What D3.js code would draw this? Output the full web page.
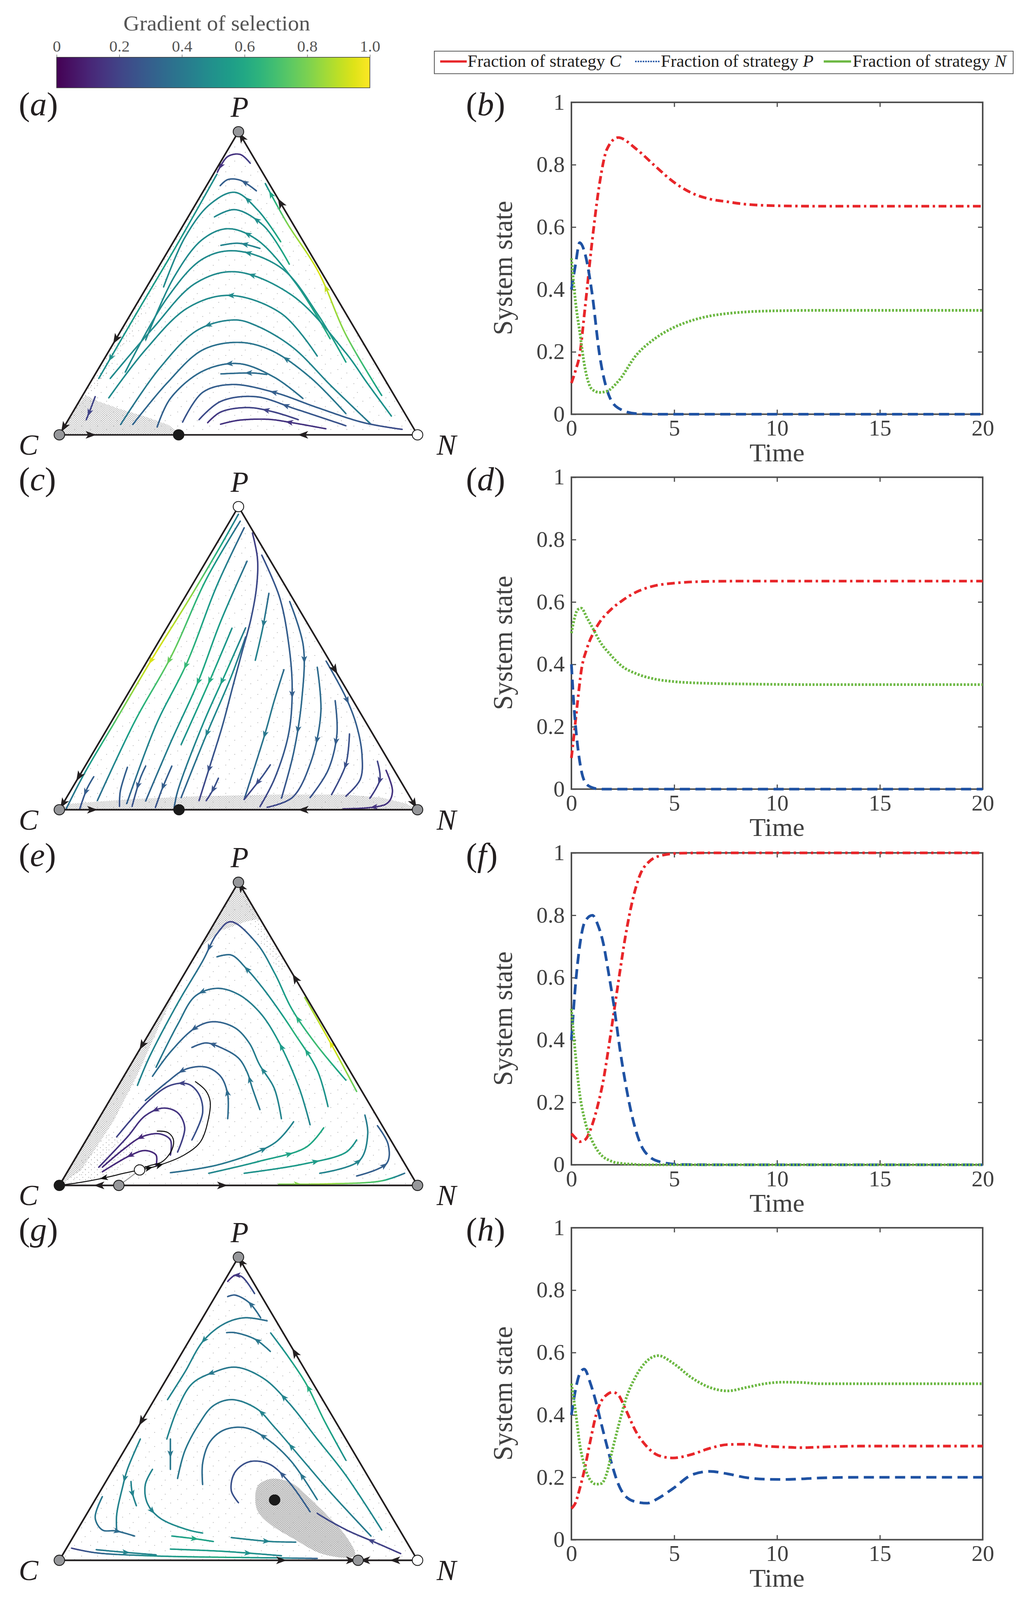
<!DOCTYPE html>
<html><head><meta charset="utf-8">
<script src="https://cdn.jsdelivr.net/npm/d3@7/dist/d3.min.js"></script>
<style>
html,body{margin:0;padding:0;background:#fff;overflow:hidden;width:100%;height:100%;}
svg{display:block;position:absolute;left:0;top:0;width:100vw;height:100vh;}
text{font-family:"Liberation Serif","Times New Roman",serif;}
</style></head><body>
<svg id="fig" viewBox="0 0 2632 4191" preserveAspectRatio="none"></svg>
<script>
// ================= DATA =================
const colorbarTicks=[0,0.2,0.4,0.6,0.8,1.0];
const colorbarLabels=['0','0.2','0.4','0.6','0.8','1.0'];
const colorbarTitle='Gradient of selection';
const strategyLetters=['C','P','N'];
const seriesColors=['#e8262a','#1f52a3','#6cb843'];
const timeTicks=[0,5,10,15,20];
const stateTicks=[0,0.2,0.4,0.6,0.8,1];
const stateTickLabels=['0','0.2','0.4','0.6','0.8','1'];
const leftLetters=['a','c','e','g'];
const rightLetters=['b','d','f','h'];

// time series (fractions of C, P, N)
const timeB=[0,0.2,0.4,0.66,1.0,1.37,1.73,2.27,3.16,4.05,4.94,5.83,6.73,7.6,8.5,10.3,12,15,20];
const fracCB=[0.1,0.14,0.19,0.34,0.55,0.74,0.85,0.887,0.85,0.797,0.746,0.71,0.69,0.681,0.673,0.668,0.667,0.667,0.667];
const fracPB=[0.4,0.48,0.55,0.515,0.39,0.19,0.078,0.02,0.002,0,0,0,0,0,0,0,0,0,0];
const fracNB=[0.5,0.36,0.266,0.148,0.08,0.07,0.074,0.105,0.19,0.242,0.277,0.30,0.315,0.323,0.328,0.332,0.333,0.333,0.333];

const timeD=[0,0.12,0.3,0.48,0.75,1.1,1.37,1.91,2.44,3.16,4.05,4.94,6.73,8.5,12,20];
const fracCD=[0.1,0.17,0.28,0.38,0.45,0.505,0.535,0.575,0.603,0.632,0.652,0.66,0.666,0.667,0.667,0.667];
const fracPD=[0.4,0.27,0.14,0.06,0.015,0.003,0,0,0,0,0,0,0,0,0,0];
const fracND=[0.5,0.54,0.575,0.58,0.55,0.508,0.475,0.43,0.395,0.37,0.353,0.345,0.339,0.337,0.335,0.335];

const timeF=[0,0.21,0.39,0.66,1.02,1.28,1.55,1.82,2.09,2.36,2.62,2.98,3.34,3.78,4.4,5.3,7,20];
const fracCF=[0.1,0.085,0.074,0.08,0.13,0.19,0.27,0.38,0.50,0.62,0.73,0.85,0.93,0.972,0.992,0.999,1,1];
const fracPF=[0.4,0.586,0.695,0.78,0.80,0.77,0.71,0.61,0.50,0.37,0.265,0.148,0.07,0.027,0.008,0.001,0,0];
const fracNF=[0.5,0.344,0.234,0.14,0.075,0.045,0.025,0.015,0.008,0.005,0.003,0.002,0,0,0,0,0,0];

const timeH=[0,0.21,0.39,0.62,0.93,1.2,1.46,1.73,2.0,2.27,2.62,3.16,3.69,4.23,4.94,5.83,6.73,7.6,8.5,9.4,10.3,11.2,12.1,14,20];
const fracCH=[0.1,0.12,0.16,0.22,0.32,0.40,0.445,0.465,0.473,0.465,0.42,0.344,0.297,0.27,0.262,0.273,0.293,0.305,0.306,0.30,0.297,0.295,0.297,0.30,0.30];
const fracPH=[0.4,0.484,0.53,0.547,0.50,0.44,0.37,0.30,0.234,0.18,0.14,0.121,0.117,0.133,0.164,0.207,0.219,0.211,0.199,0.194,0.193,0.195,0.198,0.20,0.20];
const fracNH=[0.5,0.406,0.3125,0.24,0.19,0.178,0.18,0.215,0.29,0.36,0.445,0.527,0.574,0.59,0.566,0.52,0.488,0.477,0.488,0.50,0.505,0.504,0.50,0.50,0.50];

// Simplex points: [x = N + P/2, P share, selection gradient]
const streamsA=[
 {pts:[[.533,.896,.2],[.505,.925,.15],[.47,.918,.15],[.441,.866,.15]],ar:[.85]},
 {pts:[[.55,.805,.3],[.505,.84,.3],[.47,.842,.3],[.449,.822,.3]],ar:[.35]},
 {pts:[[.618,.637,.62],[.555,.74,.5],[.49,.80,.48],[.42,.76,.48],[.35,.65,.48],[.291,.488,.48]],ar:[.28]},
 {pts:[[.642,.563,.62],[.57,.69,.5],[.49,.743,.47],[.433,.719,.47]],ar:[.55]},
 {pts:[[.756,.317,.62],[.66,.50,.55],[.55,.645,.5],[.47,.68,.48],[.40,.645,.48],[.32,.52,.48],[.241,.313,.48]],ar:[.45]},
 {pts:[[.56,.615,.45],[.50,.632,.45],[.451,.625,.45]],ar:[.4]},
 {pts:[[.80,.24,.58],[.72,.40,.53],[.62,.55,.5],[.49,.607,.48],[.40,.58,.48],[.30,.45,.48],[.184,.207,.48]],ar:[.45]},
 {pts:[[.927,.062,.5],[.86,.17,.52],[.80,.27,.52],[.65,.46,.5],[.49,.538,.48],[.38,.50,.48],[.26,.35,.48],[.142,.186,.48]],ar:[.52]},
 {pts:[[.72,.26,.48],[.62,.40,.48],[.476,.46,.48],[.36,.42,.48],[.24,.28,.48],[.138,.122,.48]],ar:[.4]},
 {pts:[[.87,.035,.4],[.76,.16,.45],[.65,.29,.46],[.55,.36,.45],[.49,.379,.45],[.388,.347,.45],[.28,.22,.43],[.171,.034,.38]],ar:[.6]},
 {pts:[[.80,.07,.4],[.70,.19,.4],[.589,.28,.4],[.50,.305,.38],[.40,.28,.37],[.30,.17,.35],[.205,.034,.32]],ar:[.3]},
 {pts:[[.68,.12,.37],[.60,.19,.37],[.50,.235,.35],[.40,.21,.35],[.31,.12,.32],[.273,.026,.3]],ar:[.45]},
 {pts:[[.579,.199,.37],[.541,.204,.35],[.451,.201,.35]],ar:[.4]},
 {pts:[[.957,.018,.22],[.85,.04,.28],[.72,.09,.3],[.60,.14,.3],[.48,.166,.3],[.40,.14,.3],[.344,.042,.25]],ar:[.55]},
 {pts:[[.80,.03,.25],[.66,.085,.28],[.547,.126,.28],[.45,.11,.25],[.39,.05,.22]],ar:[.4]},
 {pts:[[.667,.05,.2],[.60,.075,.2],[.526,.09,.2],[.45,.075,.18],[.414,.04,.15]],ar:[.35]},
 {pts:[[.744,.02,.15],[.65,.04,.15],[.585,.051,.15],[.50,.048,.15],[.45,.035,.15]],ar:[.35]},
 {pts:[[.44,.86,.48],[.325,.62,.55],[.215,.40,.55],[.11,.186,.48]],ar:[.9]},
 {pts:[[.10,.126,.2],[.082,.07,.2],[.075,.05,.2]],ar:[.7]},
 {pts:[[.90,.13,.55],[.80,.33,.8],[.723,.538,.95],[.635,.70,.8],[.575,.829,.5]],ar:[.5,.95]}
];
const streamsC=[
 {pts:[[.50,.975,.4],[.45,.87,.6],[.36,.69,.85],[.26,.50,.95],[.16,.30,.75],[.07,.12,.5],[.019,.003,.35]],ar:[.5]},
 {pts:[[.505,.952,.35],[.41,.76,.6],[.314,.51,.78],[.21,.29,.6],[.106,.03,.35]],ar:[.5]},
 {pts:[[.516,.93,.3],[.44,.74,.5],[.356,.484,.68],[.27,.28,.5],[.188,.02,.3]],ar:[.5]},
 {pts:[[.524,.82,.35],[.45,.62,.55],[.386,.418,.62],[.31,.22,.45],[.241,.029,.3]],ar:[.5]},
 {pts:[[.482,.599,.5],[.417,.418,.62],[.34,.215,.5]],ar:[.45]},
 {pts:[[.52,.60,.4],[.467,.458,.58],[.40,.28,.5],[.33,.06,.35],[.32,.003,.3]],ar:[.3]},
 {pts:[[.52,.57,.35],[.48,.44,.5],[.41,.246,.45],[.34,.04,.3]],ar:[.6]},
 {pts:[[.539,.913,.18],[.553,.83,.2],[.551,.74,.22],[.535,.63,.25],[.51,.52,.28],[.485,.41,.28],[.455,.276,.28],[.42,.143,.25],[.39,.03,.2]],ar:[.88]},
 {pts:[[.585,.714,.35],[.567,.595,.42],[.547,.493,.45]],ar:[.45]},
 {pts:[[.565,.84,.25],[.615,.70,.28],[.64,.55,.3],[.65,.40,.3],[.64,.25,.3],[.60,.10,.25],[.56,.01,.2]],ar:[.55]},
 {pts:[[.643,.687,.3],[.681,.541,.32],[.677,.365,.35],[.654,.188,.32],[.62,.038,.25]],ar:[.3,.65]},
 {pts:[[.627,.462,.35],[.60,.36,.4],[.574,.25,.4],[.516,.034,.3]],ar:[.5]},
 {pts:[[.72,.47,.35],[.73,.32,.35],[.70,.15,.3],[.65,.04,.25],[.58,.008,.2]],ar:[.45]},
 {pts:[[.77,.36,.3],[.775,.25,.3],[.75,.13,.28],[.70,.04,.25]],ar:[.4]},
 {pts:[[.81,.25,.25],[.80,.15,.25],[.76,.05,.22]],ar:[.5]},
 {pts:[[.745,.49,.3],[.80,.37,.3],[.83,.277,.3],[.845,.18,.28],[.84,.10,.25],[.80,.045,.2]],ar:[.3]},
 {pts:[[.888,.16,.2],[.895,.10,.2],[.867,.038,.18]],ar:[.5]},
 {pts:[[.912,.13,.15],[.93,.06,.15],[.914,.02,.15],[.792,.003,.15]],ar:[.62]},
 {pts:[[.096,.109,.3],[.077,.069,.3],[.057,.003,.25]],ar:[.5]},
 {pts:[[.241,.144,.3],[.226,.104,.3],[.203,.011,.25]],ar:[.5]},
 {pts:[[.314,.144,.3],[.287,.069,.3],[.268,.007,.25]],ar:[.5]},
 {pts:[[.444,.104,.25],[.428,.064,.25],[.41,.03,.2]],ar:[.5]},
 {pts:[[.589,.148,.25],[.566,.109,.25],[.516,.034,.2]],ar:[.5]},
 {pts:[[.19,.14,.3],[.17,.06,.3],[.168,.011,.25]],ar:[]}
];
const streamsE=[
 {pts:[[.31,.042,.35],[.45,.07,.4],[.601,.14,.45],[.654,.21,.45]],ar:[.7]},
 {pts:[[.417,.04,.45],[.56,.08,.55],[.689,.126,.6],[.738,.19,.6]],ar:[.65]},
 {pts:[[.516,.04,.5],[.68,.07,.55],[.80,.109,.55],[.83,.15,.5]],ar:[.6]},
 {pts:[[.727,.04,.45],[.838,.082,.45],[.861,.17,.45],[.853,.232,.4]],ar:[.45]},
 {pts:[[.83,.031,.3],[.914,.073,.3],[.918,.135,.3],[.888,.197,.3]],ar:[.4]},
 {pts:[[.612,.004,.8],[.75,.005,.85],[.90,.015,.7],[.964,.04,.35]],ar:[.15]},
 {pts:[[.83,.31,.75],[.761,.462,.95],[.685,.62,.85]],ar:[.5]},
 {pts:[[.80,.347,.55],[.719,.462,.7],[.65,.58,.6],[.601,.70,.5],[.55,.80,.35],[.478,.87,.2],[.44,.83,.25],[.40,.74,.35],[.33,.60,.45],[.25,.42,.45],[.218,.33,.45]],ar:[.2,.6]},
 {pts:[[.75,.26,.5],[.72,.38,.55],[.654,.506,.65],[.60,.60,.5],[.562,.66,.45],[.523,.714,.4],[.48,.76,.35],[.44,.754,.35]],ar:[.3,.82]},
 {pts:[[.70,.20,.45],[.67,.32,.5],[.612,.475,.55],[.56,.57,.45],[.50,.63,.4],[.44,.65,.35],[.38,.625,.35],[.33,.53,.4],[.27,.39,.4]],ar:[.3,.68]},
 {pts:[[.62,.22,.45],[.60,.32,.45],[.559,.398,.45],[.53,.47,.4],[.49,.52,.35],[.43,.54,.3],[.38,.52,.3],[.31,.44,.35],[.26,.36,.35]],ar:[.25,.7]},
 {pts:[[.56,.25,.4],[.539,.32,.4],[.524,.374,.4],[.50,.42,.35],[.45,.455,.3],[.409,.47,.3],[.37,.455,.3]],ar:[.3,.8]},
 {pts:[[.47,.22,.35],[.47,.30,.35],[.45,.36,.3],[.41,.39,.3],[.352,.383,.3],[.30,.34,.3],[.24,.28,.3]],ar:[.2,.65]},
 {pts:[[.37,.15,.25],[.40,.24,.25],[.39,.30,.22],[.36,.334,.2],[.31,.33,.2],[.25,.28,.2],[.16,.16,.2]],ar:[.45]},
 {pts:[[.33,.11,.2],[.35,.19,.18],[.33,.24,.15],[.29,.255,.15],[.24,.23,.15],[.19,.16,.15],[.11,.06,.15]],ar:[.45]},
 {pts:[[.31,.10,.15],[.31,.15,.15],[.28,.17,.15],[.23,.16,.12],[.18,.12,.12],[.12,.06,.12]],ar:[.5]},
 {pts:[[.27,.065,.12],[.27,.10,.12],[.24,.115,.12],[.20,.10,.12],[.12,.045,.12]],ar:[.55]}
];
const separatricesE=[
 {pts:[[.224,.051],[.18,.04],[.142,.029],[.06,.01],[0,0]],ar:[.45]},
 {pts:[[.224,.051],[.272,.064],[.348,.10],[.394,.144],[.417,.224],[.421,.277],[.409,.312],[.379,.343]],ar:[.07,.15]},
 {pts:[[.224,.051],[.249,.064],[.287,.078],[.314,.117],[.318,.153],[.302,.175],[.272,.179]],ar:[]}
];
const streamsG=[
 {pts:[[.034,.04,.2],[.10,.025,.3],[.25,.015,.5],[.45,.01,.62],[.60,.008,.5],[.72,.006,.3]],ar:[]},
 {pts:[[.103,.035,.4],[.176,.027,.45],[.27,.018,.45]],ar:[.5]},
 {pts:[[.31,.037,.55],[.45,.03,.55],[.547,.022,.5],[.62,.015,.45]],ar:[.7]},
 {pts:[[.314,.08,.55],[.379,.071,.6],[.43,.062,.55]],ar:[.55]},
 {pts:[[.48,.075,.45],[.589,.062,.45],[.66,.06,.4]],ar:[.55]},
 {pts:[[.226,.40,.45],[.19,.30,.45],[.176,.239,.45],[.16,.15,.45],[.16,.10,.4]],ar:[.45]},
 {pts:[[.12,.21,.4],[.10,.14,.4],[.12,.10,.35],[.157,.097,.35],[.21,.08,.35]],ar:[.75]},
 {pts:[[.26,.30,.45],[.24,.25,.45],[.245,.19,.45],[.28,.14,.45],[.36,.10,.5],[.40,.09,.5]],ar:[.45]},
 {pts:[[.31,.40,.4],[.31,.362,.4],[.31,.30,.4]],ar:[.5]},
 {pts:[[.20,.26,.45],[.203,.225,.45],[.215,.18,.45]],ar:[.5]},
 {pts:[[.545,.88,.25],[.51,.935,.2],[.49,.94,.15],[.47,.92,.15]],ar:[.7]},
 {pts:[[.562,.80,.35],[.53,.85,.35],[.49,.875,.3],[.47,.87,.3]],ar:[.4]},
 {pts:[[.589,.689,.4],[.547,.729,.4],[.49,.751,.35],[.467,.751,.35]],ar:[.35]},
 {pts:[[.58,.79,.35],[.516,.80,.4],[.46,.78,.42],[.402,.724,.45],[.35,.62,.45],[.302,.53,.45]],ar:[.5]},
 {pts:[[.80,.33,.5],[.74,.46,.6],[.69,.58,.62],[.64,.67,.55],[.59,.75,.45]],ar:[.55]},
 {pts:[[.90,.10,.45],[.80,.28,.5],[.72,.40,.5],[.64,.52,.45],[.57,.60,.45],[.493,.637,.4],[.43,.62,.4],[.371,.583,.45],[.33,.50,.45],[.30,.40,.45]],ar:[.5,.75]},
 {pts:[[.87,.08,.4],[.76,.22,.45],[.68,.33,.45],[.60,.44,.45],[.551,.50,.45],[.482,.53,.4],[.43,.51,.4],[.39,.45,.4],[.35,.36,.4],[.33,.27,.4]],ar:[.4,.55]},
 {pts:[[.72,.20,.4],[.647,.327,.38],[.58,.40,.38],[.52,.437,.35],[.46,.43,.35],[.42,.39,.35],[.40,.32,.35],[.40,.25,.35]],ar:[.15,.45]},
 {pts:[[.70,.16,.3],[.64,.26,.3],[.585,.318,.25],[.53,.325,.25],[.49,.29,.25],[.48,.23,.25],[.50,.19,.25]],ar:[.35]},
 {pts:[[.953,.022,.18],[.88,.06,.2],[.807,.097,.2],[.74,.14,.22],[.72,.155,.22]],ar:[.35]}
];

// fixed points [x, P share, kind]
const fixedA=[[0,0,'grey'],[.5,1,'grey'],[1,0,'white'],[.333,0,'black']];
const fixedC=[[0,0,'grey'],[.5,1,'white'],[1,0,'grey'],[.334,0,'black']];
const fixedE=[[0,0,'black'],[.5,1,'grey'],[1,0,'grey'],[.166,0,'grey'],[.224,.051,'white']];
const fixedG=[[0,0,'grey'],[.5,1,'grey'],[1,0,'white'],[.834,0,'grey'],[.601,.199,'black']];

// boundary flow arrows: [edge, position along edge, direction]
const edgeArrowsA=[['CP',.315,-1],['CP',.025,-1],['PN',.235,-1],['PN',.018,-1],['CN',.088,1],['CN',.68,-1]];
const edgeArrowsC=[['CP',.109,-1],['CP',.02,-1],['PN',.538,1],['PN',.98,1],['CN',.092,1],['CN',.681,-1]];
const edgeArrowsE=[['CP',.462,-1],['PN',.317,-1],['PN',.015,-1],['CN',.111,-1],['CN',.455,1]];
const edgeArrowsG=[['CP',.459,-1],['PN',.315,-1],['PN',.015,-1],['CN',.62,1],['CN',.815,1],['CN',.853,-1],['CN',.937,-1]];

// grey trajectory-dot regions
const greyA=[{poly:[[0,0],[.03,.06],[.05,.10],[.075,.13],[.11,.11],[.17,.085],[.24,.06],[.30,.035],[.334,.01],[.334,0]],kind:'dense'},
             {poly:[[0,0],[.5,1],[.47,.93],[.40,.78],[.30,.55],[.20,.33],[.12,.18],[.05,.08]],kind:'med'}];
const greyC=[{poly:[[0,0],[.03,.02],[.2,.035],[.4,.045],[.6,.05],[.8,.05],[.9,.04],[.97,.02],[1,0]],kind:'dense'}];
const greyE=[{poly:[[0,0],[.5,1],[.56,.88],[.52,.87],[.45,.84],[.40,.79],[.34,.68],[.28,.53],[.22,.37],[.15,.21],[.10,.12],[.06,.05]],kind:'dense'},
             {poly:[[.5,1],[.64,.72],[.62,.70],[.55,.83]],kind:'med'},
             {poly:[[0,0],[.14,.17],[.22,.13],[.16,.05],[.1,.015]],kind:'med'}];
const greyG=[{poly:[[.555,.247],[.593,.269],[.647,.256],[.70,.203],[.754,.141],[.80,.08],[.826,.018],[.807,.009],[.731,.022],[.654,.071],[.593,.115],[.555,.159],[.547,.203]],kind:'solid'}];

// ================= LAYOUT =================
const rowOffsets=[0,982,1966,2948];
const triLeft=152, triRight=1069, triBase=1139, triHeight=794;
const tsLeft=1463, tsRight=2516, tsTop=268, tsBottom=1085;
const inkColor='#231f20', axisGrey='#4d4d4d', labelGrey='#404040';

const svg=d3.select('#fig');
svg.append('rect').attr('width',2632).attr('height',4191).attr('fill','#fff');
const defs=svg.append('defs');
const gradColor=t=>d3.interpolateViridis(Math.max(0,Math.min(1,t)));

function dotPattern(id,w,h,dots,r,col){
  const p=defs.append('pattern').attr('id',id).attr('patternUnits','userSpaceOnUse').attr('width',w).attr('height',h);
  dots.forEach(d=>p.append('circle').attr('cx',d[0]).attr('cy',d[1]).attr('r',r).attr('fill',col));
}
dotPattern('dSparse',41,37,[[4,6],[27,15],[13,29]],1.0,'#9a9a9a');
dotPattern('dMed',15,13,[[2,3],[9,9]],1.05,'#8e8e8e');
dotPattern('dDense',6,5,[[1,1],[4,3.5]],1.15,'#8e8e8e');

// ---------- colour bar ----------
const cbScale=d3.scaleLinear().domain([0,1]).range([145,947]);
const cbGrad=defs.append('linearGradient').attr('id','cbGrad').attr('x1','0%').attr('x2','100%');
d3.range(0,1.0001,0.05).forEach(t=>cbGrad.append('stop').attr('offset',(t*100)+'%').attr('stop-color',gradColor(t)));
svg.append('rect').attr('x',cbScale(0)).attr('y',150).attr('width',cbScale(1)-cbScale(0)).attr('height',80)
  .attr('fill','url(#cbGrad)').attr('stroke','#333').attr('stroke-width',1.5);
const cbAxis=svg.append('g').attr('transform','translate(0,150)')
  .call(d3.axisTop(cbScale).tickValues(colorbarTicks).tickFormat((d,i)=>colorbarLabels[i]).tickSize(7).tickPadding(8));
cbAxis.select('.domain').remove();
cbAxis.selectAll('line').attr('stroke','#555').attr('stroke-width',1.2);
cbAxis.selectAll('text').attr('font-size',42).attr('fill','#555').attr('font-family','"Liberation Serif",serif');
svg.append('text').attr('x',555).attr('y',80).attr('text-anchor','middle').attr('font-size',57).attr('fill','#555').text(colorbarTitle);

// ---------- legend ----------
svg.append('rect').attr('x',1112).attr('y',134).attr('width',1482).attr('height',59).attr('fill','#fff').attr('stroke','#555').attr('stroke-width',2);
const legendPos=[[1127,1195,1197],[1626,1689,1692],[2109,2179,2183]];
const legendDash=[null,'4,2.5',null];
strategyLetters.forEach((s,i)=>{
  const lp=legendPos[i];
  const ln=svg.append('line').attr('x1',lp[0]).attr('x2',lp[1]).attr('y1',161).attr('y2',161)
    .attr('stroke',seriesColors[i]).attr('stroke-width',i===1?4:6);
  if(legendDash[i]) ln.attr('stroke-dasharray',legendDash[i]);
  const t=svg.append('text').attr('x',lp[2]).attr('y',175).attr('font-size',45).attr('fill',inkColor);
  t.append('tspan').text('Fraction of strategy ');
  t.append('tspan').attr('font-style','italic').text(s);
});

// ---------- helpers ----------
const lineGen=d3.line().curve(d3.curveCatmullRom.alpha(0.5));
const arrowShape='M10,0 L-10,-7.5 L-5,0 L-10,7.5 Z';

function drawStream(parent,s,P,fixedColor,width,arrowScale){
  const xy=s.pts.map(d=>P(d));
  const tmp=parent.append('path').attr('d',lineGen(xy)).attr('fill','none').attr('stroke','none');
  const node=tmp.node(); const L=node.getTotalLength();
  const cum=[0];
  for(let i=1;i<xy.length;i++) cum.push(cum[i-1]+Math.hypot(xy[i][0]-xy[i-1][0],xy[i][1]-xy[i-1][1]));
  const tot=cum[cum.length-1]||1;
  const gAt=f=>{
    const t=f*tot; let i=0;
    while(i<cum.length-2 && cum[i+1]<t) i++;
    const a=cum[i],b=cum[i+1]; const w=b>a?Math.max(0,Math.min(1,(t-a)/(b-a))):0;
    return s.pts[i][2]*(1-w)+s.pts[i+1][2]*w;
  };
  const colorAt=f=>fixedColor||gradColor(gAt(f));
  if(fixedColor){
    parent.append('path').attr('d',lineGen(xy)).attr('fill','none').attr('stroke',fixedColor).attr('stroke-width',width);
  } else {
    const n=Math.max(2,Math.ceil(L/4));
    const sp=d3.range(n+1).map(k=>node.getPointAtLength(k/n*L));
    for(let k=0;k<n;k++){
      parent.append('line').attr('x1',sp[k].x).attr('y1',sp[k].y).attr('x2',sp[k+1].x).attr('y2',sp[k+1].y)
        .attr('stroke',colorAt((k+0.5)/n)).attr('stroke-width',width).attr('stroke-linecap','round');
    }
  }
  s.ar.forEach(f=>{
    const l=f*L;
    const a=node.getPointAtLength(Math.max(0,l-3)), b=node.getPointAtLength(Math.min(L,l+3)), c=node.getPointAtLength(l);
    const ang=Math.atan2(b.y-a.y,b.x-a.x)*180/Math.PI;
    parent.append('path').attr('d',arrowShape).attr('transform',`translate(${c.x},${c.y}) rotate(${ang}) scale(${arrowScale})`)
      .attr('fill',colorAt(f));
  });
  tmp.remove();
}

function panelLetter(x,y,letter){
  const t=svg.append('text').attr('x',x).attr('y',y).attr('font-size',86).attr('fill',inkColor);
  t.append('tspan').text('(');
  t.append('tspan').attr('font-style','italic').text(letter);
  t.append('tspan').text(')');
}

// ---------- simplex panels ----------
const simplexPanels=[
 {streams:streamsA,fixed:fixedA,edges:edgeArrowsA,grey:greyA,sep:[]},
 {streams:streamsC,fixed:fixedC,edges:edgeArrowsC,grey:greyC,sep:[]},
 {streams:streamsE,fixed:fixedE,edges:edgeArrowsE,grey:greyE,sep:separatricesE},
 {streams:streamsG,fixed:fixedG,edges:edgeArrowsG,grey:greyG,sep:[]}
];
const vertexOf={C:[0,0],P:[0.5,1],N:[1,0]};

simplexPanels.forEach((cfg,i)=>{
  const off=rowOffsets[i];
  const xs=d3.scaleLinear().domain([0,1]).range([triLeft,triRight]);
  const ys=d3.scaleLinear().domain([0,1]).range([triBase+off,triBase+off-triHeight]);
  const P=d=>[xs(d[0]),ys(d[1])];
  const verts=[vertexOf.C,vertexOf.P,vertexOf.N].map(P);
  const g=svg.append('g');
  const clipId='triClip'+i;
  defs.append('clipPath').attr('id',clipId).append('polygon').attr('points',verts.map(v=>v.join(',')).join(' '));
  const inner=g.append('g').attr('clip-path',`url(#${clipId})`);
  inner.append('polygon').attr('points',verts.map(v=>v.join(',')).join(' ')).attr('fill','url(#dSparse)');
  cfg.grey.forEach(r=>{
    const curve=r.kind==='solid'?d3.curveCatmullRomClosed:d3.curveLinearClosed;
    const d=d3.line().curve(curve)(r.poly.map(P));
    if(r.kind==='solid'){
      inner.append('path').attr('d',d).attr('fill','#c4c4c4').attr('opacity',0.55);
      inner.append('path').attr('d',d).attr('fill','url(#dDense)');
    } else {
      inner.append('path').attr('d',d).attr('fill',r.kind==='dense'?'url(#dDense)':'url(#dMed)');
    }
  });
  if(i===2){
    inner.append('path').attr('d',lineGen([[.224,.051],[.19,.02],[.166,0]].map(P))).attr('fill','none').attr('stroke','#9a9a9a').attr('stroke-width',2.5);
  }
  cfg.streams.forEach(s=>drawStream(inner,s,P,null,3.8,1.0));
  cfg.sep.forEach(s=>drawStream(g,s,P,'#111',2.6,1.05));
  g.append('polygon').attr('points',verts.map(v=>v.join(',')).join(' ')).attr('fill','none')
    .attr('stroke',inkColor).attr('stroke-width',4.2).attr('stroke-linejoin','round');
  cfg.edges.forEach(([e,t,dir])=>{
    const a=P(vertexOf[e[0]]), b=P(vertexOf[e[1]]);
    const x=a[0]+(b[0]-a[0])*t, y=a[1]+(b[1]-a[1])*t;
    const ang=Math.atan2((b[1]-a[1])*dir,(b[0]-a[0])*dir)*180/Math.PI;
    g.append('path').attr('d',arrowShape).attr('transform',`translate(${x},${y}) rotate(${ang}) scale(1.35)`).attr('fill',inkColor);
  });
  cfg.fixed.forEach(f=>{
    const c=P(f);
    g.append('circle').attr('cx',c[0]).attr('cy',c[1]).attr('r',13.5)
      .attr('fill',f[2]==='grey'?'#96979a':(f[2]==='white'?'#fff':'#1a1a1a'))
      .attr('stroke','#1a1a1a').attr('stroke-width',2.2);
  });
  const pTop=P(vertexOf.P);
  svg.append('text').attr('x',pTop[0]+3).attr('y',pTop[1]-39).attr('text-anchor','middle').attr('font-size',75).attr('font-style','italic').attr('fill',inkColor).text('P');
  svg.append('text').attr('x',73).attr('y',triBase+off+52).attr('text-anchor','middle').attr('font-size',75).attr('font-style','italic').attr('fill',inkColor).text('C');
  svg.append('text').attr('x',1143).attr('y',triBase+off+52).attr('text-anchor','middle').attr('font-size',75).attr('font-style','italic').attr('fill',inkColor).text('N');
  panelLetter(48,302+off,leftLetters[i]);
});

// ---------- time-series panels ----------
const seriesPanels=[
 {t:timeB,v:[fracCB,fracPB,fracNB]},
 {t:timeD,v:[fracCD,fracPD,fracND]},
 {t:timeF,v:[fracCF,fracPF,fracNF]},
 {t:timeH,v:[fracCH,fracPH,fracNH]}
];
const seriesDash=['20,9,6,9','26,14','5,4'];
seriesPanels.forEach((cfg,i)=>{
  const off=rowOffsets[i];
  const x=d3.scaleLinear().domain([0,20]).range([tsLeft,tsRight]);
  const y=d3.scaleLinear().domain([0,1]).range([tsBottom+off,tsTop+off]);
  const g=svg.append('g');
  g.append('rect').attr('x',tsLeft).attr('y',tsTop+off).attr('width',tsRight-tsLeft).attr('height',tsBottom-tsTop)
    .attr('fill','none').attr('stroke',axisGrey).attr('stroke-width',4);
  const style=sel=>{
    sel.select('.domain').remove();
    sel.selectAll('line').attr('stroke',axisGrey).attr('stroke-width',3);
    sel.selectAll('text').attr('font-size',58).attr('fill',labelGrey).attr('font-family','"Liberation Serif",serif');
  };
  g.append('g').attr('transform',`translate(0,${tsBottom+off})`)
    .call(d3.axisBottom(x).tickValues(timeTicks).tickFormat(d3.format('d')).tickSize(-12).tickPadding(15)).call(style);
  g.append('g').attr('transform',`translate(0,${tsTop+off})`)
    .call(d3.axisTop(x).tickValues(timeTicks).tickFormat('').tickSize(-12)).call(style);
  g.append('g').attr('transform',`translate(${tsLeft},0)`)
    .call(d3.axisLeft(y).tickValues(stateTicks).tickFormat((d,k)=>stateTickLabels[k]).tickSize(-12).tickPadding(17)).call(style);
  g.append('g').attr('transform',`translate(${tsRight},0)`)
    .call(d3.axisRight(y).tickValues(stateTicks).tickFormat('').tickSize(-12)).call(style);
  const ln=d3.line().x(d=>x(d[0])).y(d=>y(d[1])).curve(d3.curveMonotoneX);
  cfg.v.forEach((vals,k)=>{
    g.append('path').datum(cfg.t.map((tt,j)=>[tt,vals[j]])).attr('d',ln).attr('fill','none')
      .attr('stroke',seriesColors[k]).attr('stroke-width',7).attr('stroke-dasharray',seriesDash[k]);
  });
  g.append('text').attr('x',(tsLeft+tsRight)/2).attr('y',1208+off).attr('text-anchor','middle').attr('font-size',68).attr('fill',labelGrey).text('Time');
  g.append('text').attr('transform',`translate(1311,${702+off}) rotate(-90)`).attr('text-anchor','middle').attr('font-size',70).attr('fill',labelGrey).text('System state');
  panelLetter(1193,302+off,rightLetters[i]);
});
</script></body></html>
